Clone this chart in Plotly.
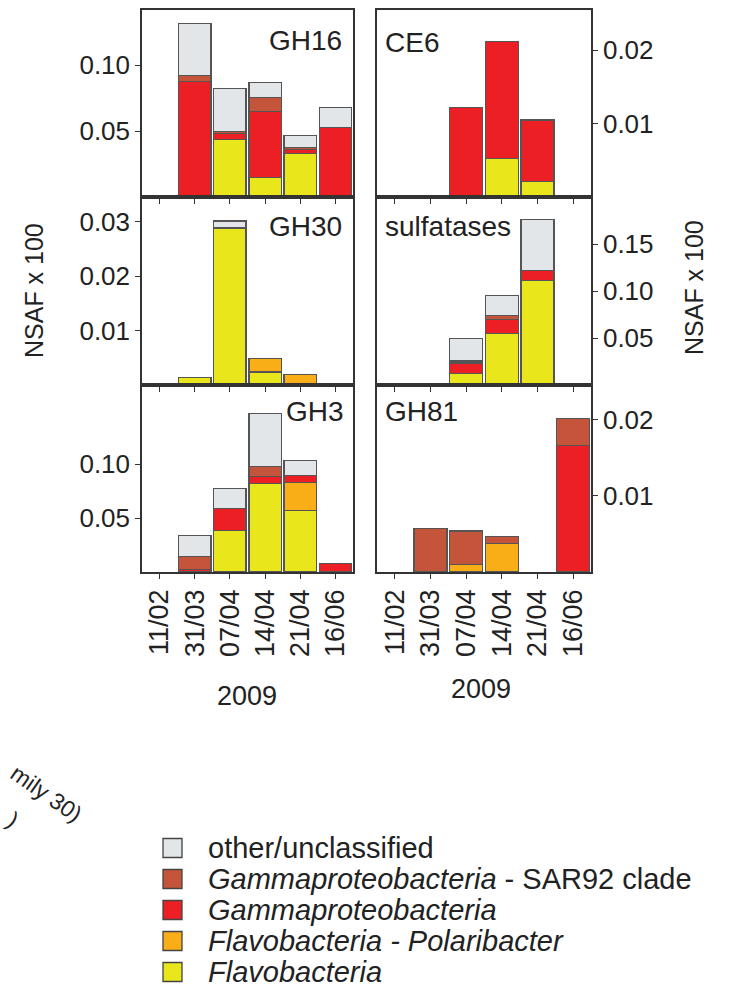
import plotly.graph_objects as go

dates = ["11/02", "31/03", "07/04", "14/04", "21/04", "16/06"]

series_names = [
    "<i>Flavobacteria</i>",
    "<i>Flavobacteria - Polaribacter</i>",
    "<i>Gammaproteobacteria</i>",
    "<i>Gammaproteobacteria</i> - SAR92 clade",
    "other/unclassified",
]
series_colors = ["#e9e71b", "#f9ae17", "#ec2024", "#c4553a", "#e3e6e8"]

panel_titles = ["GH16", "CE6", "GH30", "sulfatases", "GH3", "GH81"]

# values: NSAF x 100, stacked bottom -> top (flavo, polari, gamma, sar92, other)
gh16_flavo = [0, 0, 0.0435, 0.015, 0.033, 0.0008]
gh16_polari = [0, 0, 0, 0, 0, 0]
gh16_gamma = [0, 0.088, 0.005, 0.050, 0.003, 0.052]
gh16_sar92 = [0, 0.0045, 0.001, 0.0107, 0.0015, 0]
gh16_other = [0, 0.039, 0.033, 0.0115, 0.009, 0.015]

ce6_flavo = [0, 0, 0, 0.0053, 0.0021, 0]
ce6_polari = [0, 0, 0, 0, 0, 0]
ce6_gamma = [0, 0, 0.0122, 0.0159, 0.0084, 0]
ce6_sar92 = [0, 0, 0, 0, 0, 0]
ce6_other = [0, 0, 0, 0, 0, 0]

gh30_flavo = [0, 0.0014, 0.0288, 0.0024, 0, 0]
gh30_polari = [0, 0, 0, 0.0024, 0.002, 0]
gh30_gamma = [0, 0, 0, 0, 0, 0]
gh30_sar92 = [0, 0, 0, 0, 0, 0]
gh30_other = [0, 0, 0.0013, 0, 0, 0]

sulf_flavo = [0, 0, 0.0125, 0.055, 0.111, 0]
sulf_polari = [0, 0, 0, 0, 0, 0]
sulf_gamma = [0, 0, 0.011, 0.015, 0.011, 0]
sulf_sar92 = [0, 0, 0.002, 0.004, 0, 0]
sulf_other = [0, 0, 0.024, 0.021, 0.054, 0]

gh3_flavo = [0, 0, 0.0387, 0.082, 0.0567, 0]
gh3_polari = [0, 0, 0, 0, 0.026, 0]
gh3_gamma = [0, 0.002, 0.020, 0.0068, 0.007, 0.0077]
gh3_sar92 = [0, 0.0125, 0, 0.0093, 0, 0]
gh3_other = [0, 0.019, 0.0186, 0.049, 0.014, 0]

gh81_flavo = [0, 0, 0, 0, 0, 0]
gh81_polari = [0, 0, 0.001, 0.0038, 0, 0]
gh81_gamma = [0, 0, 0, 0, 0, 0.0166]
gh81_sar92 = [0, 0.0057, 0.0044, 0.0009, 0, 0.0036]
gh81_other = [0, 0, 0, 0, 0, 0]

panels = [
    [gh16_flavo, gh16_polari, gh16_gamma, gh16_sar92, gh16_other],
    [ce6_flavo, ce6_polari, ce6_gamma, ce6_sar92, ce6_other],
    [gh30_flavo, gh30_polari, gh30_gamma, gh30_sar92, gh30_other],
    [sulf_flavo, sulf_polari, sulf_gamma, sulf_sar92, sulf_other],
    [gh3_flavo, gh3_polari, gh3_gamma, gh3_sar92, gh3_other],
    [gh81_flavo, gh81_polari, gh81_gamma, gh81_sar92, gh81_other],
]

y_ranges = [[0, 0.142], [0, 0.0255], [0, 0.0345], [0, 0.2], [0, 0.1735], [0, 0.0246]]
y_ticks = [
    [0.05, 0.10],
    [0.01, 0.02],
    [0.01, 0.02, 0.03],
    [0.05, 0.10, 0.15],
    [0.05, 0.10],
    [0.01, 0.02],
]

W, H = 729, 997
FONT = "Liberation Sans, Arial, sans-serif"
TXT = "#222222"

x_dom_px = [(142, 353), (377, 591)]
y_dom_px = [(10, 197), (197, 385), (385, 572)]

fig = go.Figure()

for p, series in enumerate(panels):
    k = p + 1
    for s, vals in enumerate(series):
        fig.add_trace(go.Bar(
            x=dates,
            y=[v if v else None for v in vals],
            name=series_names[s],
            legendgroup=series_names[s],
            showlegend=False,
            marker=dict(color=series_colors[s], line=dict(color="#555555", width=1.2)),
            width=0.92,
            xaxis="x" if k == 1 else f"x{k}",
            yaxis="y" if k == 1 else f"y{k}",
            hoverinfo="skip",
        ))

layout = dict(
    width=W, height=H,
    margin=dict(l=0, r=0, t=0, b=0, autoexpand=False),
    paper_bgcolor="white", plot_bgcolor="white",
    barmode="stack",
    font=dict(family=FONT, color=TXT, size=24),
    showlegend=False,
)

for p in range(6):
    k = p + 1
    col = p % 2
    row = p // 2
    x0, x1 = x_dom_px[col]
    yt, yb = y_dom_px[row]
    xs = "" if k == 1 else str(k)
    layout[f"xaxis{xs}"] = dict(
        domain=[x0 / W, x1 / W],
        anchor="y" if k == 1 else f"y{k}",
        type="category",
        categoryorder="array", categoryarray=dates,
        range=[-0.5, 5.5],
        showline=True, mirror=True, linecolor="#333333", linewidth=1.5,
        ticks="outside", ticklen=5, tickwidth=1.2, tickcolor="#333333",
        showticklabels=(row == 2), tickangle=-90,
        tickfont=dict(size=27, family=FONT, color=TXT),
        showgrid=False, zeroline=False, fixedrange=True, automargin=False,
    )
    layout[f"yaxis{xs}"] = dict(
        domain=[1 - yb / H, 1 - yt / H],
        anchor="x" if k == 1 else f"x{k}",
        side="left" if col == 0 else "right",
        range=y_ranges[p],
        tickvals=y_ticks[p],
        ticktext=[f"{v:.2f}" for v in y_ticks[p]],
        showline=True, mirror=True, linecolor="#333333", linewidth=1.5,
        ticks="outside", ticklen=5, tickwidth=1.2, tickcolor="#333333",
        tickfont=dict(size=26, family=FONT, color=TXT),
        showgrid=False, zeroline=False, fixedrange=True, automargin=False,
    )

fig.update_layout(**layout)

annotations = []
shapes = []
# panel labels
label_pos = [
    (344, 41, "right"), (383, 42, "left"),
    (344, 227, "right"), (383, 227, "left"),
    (346, 412, "right"), (383, 412, "left"),
]
for (px, py, anc), t in zip(label_pos, panel_titles):
    annotations.append(dict(
        text=t, x=px / W, y=1 - py / H, xref="paper", yref="paper",
        xanchor=anc, yanchor="middle", showarrow=False,
        font=dict(size=28, family=FONT, color=TXT),
    ))

# axis titles
annotations.append(dict(text="NSAF x 100", x=34 / W, y=1 - 291 / H, xref="paper", yref="paper",
                        textangle=-90, showarrow=False, xanchor="center", yanchor="middle",
                        font=dict(size=25, family=FONT, color=TXT)))
annotations.append(dict(text="NSAF x 100", x=694 / W, y=1 - 288 / H, xref="paper", yref="paper",
                        textangle=-90, showarrow=False, xanchor="center", yanchor="middle",
                        font=dict(size=25, family=FONT, color=TXT)))
annotations.append(dict(text="2009", x=247 / W, y=1 - 696 / H, xref="paper", yref="paper",
                        showarrow=False, xanchor="center", yanchor="middle",
                        font=dict(size=27, family=FONT, color=TXT)))
annotations.append(dict(text="2009", x=481 / W, y=1 - 689 / H, xref="paper", yref="paper",
                        showarrow=False, xanchor="center", yanchor="middle",
                        font=dict(size=27, family=FONT, color=TXT)))
# cropped text fragments from neighbouring figure
annotations.append(dict(text="mily 30)", x=47 / W, y=1 - 794 / H, xref="paper", yref="paper",
                        textangle=35, showarrow=False, xanchor="center", yanchor="middle",
                        font=dict(size=23, family=FONT, color=TXT)))
annotations.append(dict(text=")", x=13 / W, y=1 - 820 / H, xref="paper", yref="paper",
                        textangle=35, showarrow=False, xanchor="center", yanchor="middle",
                        font=dict(size=23, family=FONT, color=TXT)))

# legend (top entry = top of stack)
leg_x0, leg_top, leg_step, sw = 163, 848, 31, 19
for i, s in enumerate(reversed(range(len(series_names)))):
    cy = leg_top + i * leg_step
    shapes.append(dict(
        type="rect", xref="paper", yref="paper",
        x0=leg_x0 / W, x1=(leg_x0 + sw) / W,
        y0=1 - (cy + sw / 2) / H, y1=1 - (cy - sw / 2) / H,
        fillcolor=series_colors[s], line=dict(color="#444444", width=1.3),
    ))
    annotations.append(dict(
        text=series_names[s], x=206 / W, y=1 - cy / H, xref="paper", yref="paper",
        xanchor="left", yanchor="middle", showarrow=False,
        font=dict(size=29, family=FONT, color=TXT),
    ))

fig.update_layout(annotations=annotations, shapes=shapes)

fig.write_html("out.html")
